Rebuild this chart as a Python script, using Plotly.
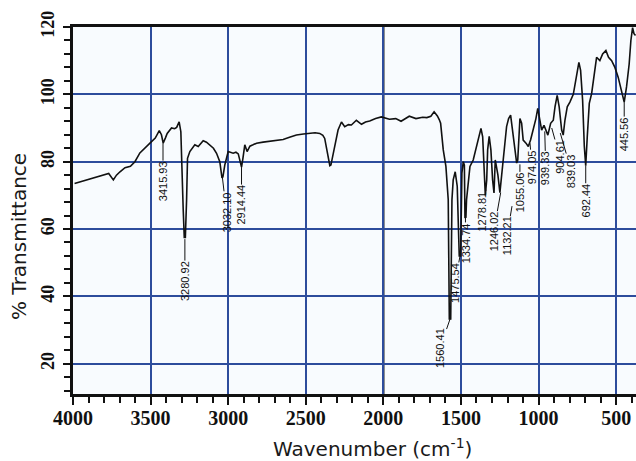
import plotly.graph_objects as go

# ---------------- data ----------------
wavenumber = [
    3990, 3900, 3805, 3770, 3740, 3720, 3697, 3665, 3630, 3601, 3569, 3535, 3504, 3470,
    3444, 3430, 3419, 3405, 3393, 3365, 3345, 3332, 3316, 3305, 3300, 3290, 3283, 3276,
    3268, 3262, 3247, 3215, 3193, 3161, 3140, 3118, 3095, 3075, 3054, 3040, 3034, 3022,
    3000, 2968, 2950,
    2935, 2925, 2914, 2905, 2893, 2878, 2860, 2840, 2817, 2775, 2731, 2690, 2646, 2600,
    2560, 2515, 2474, 2440, 2410, 2390, 2378, 2356, 2345, 2338, 2320, 2292, 2270, 2249,
    2225, 2206, 2174, 2141, 2115, 2088, 2050, 2013, 1961, 1920, 1886, 1860, 1833, 1790,
    1747, 1720, 1694, 1673, 1652,
    1640, 1631, 1614, 1597, 1582, 1575, 1566, 1558, 1550, 1537, 1524, 1511, 1502, 1494,
    1485, 1478, 1474, 1468, 1464, 1453, 1442, 1421, 1399, 1382, 1371, 1360, 1352, 1343,
    1334, 1328, 1318, 1307, 1296, 1287, 1279, 1270, 1262, 1249, 1238, 1227, 1217, 1206,
    1193, 1180, 1167, 1154, 1141, 1134, 1128, 1120, 1109, 1099, 1081, 1066, 1051, 1034,
    1017, 1005, 990, 980, 965, 948, 940,
    922, 905, 894, 880, 867, 851, 841, 830, 815, 798, 776, 755, 740, 729, 716, 705, 696,
    686, 673, 658, 643, 626, 605, 587, 566, 549, 529, 508, 487, 465, 448, 433, 416, 405,
    394, 385, 375,
]
transmittance = [
    73.5, 74.8, 76.1, 76.5, 74.6, 76.0, 77.0, 78.2, 78.6, 80.0, 82.6, 84.0, 85.5, 87.0,
    89.2, 88.0, 85.5, 87.0, 88.4, 90.0, 89.8, 90.2, 91.8, 88.9, 77.6, 66.0, 57.5, 57.5,
    68.7, 81.0, 83.0, 85.0, 84.5, 86.2, 85.8, 85.0, 84.0, 82.5, 80.0, 75.2, 75.5, 79.0,
    83.0, 82.5, 82.8,
    82.3, 80.5, 78.4, 81.0, 85.0, 83.0, 84.6, 85.0, 85.5, 85.8, 86.0, 86.3, 86.6, 87.3,
    87.9, 88.2, 88.4, 88.6, 88.4, 87.8, 86.9, 81.5, 78.8, 79.0, 83.5, 89.4, 91.8, 90.4,
    91.0, 90.9, 92.3, 91.1, 91.8, 92.1, 92.8, 93.3, 92.6, 92.8, 92.0, 92.8, 93.5, 92.8,
    93.2, 93.1, 93.5, 94.8, 93.6,
    92.5, 91.4, 83.5, 78.6, 68.7, 33.3, 33.3, 68.7, 74.6, 77.0, 72.7, 52.0, 52.0, 76.6,
    80.0, 79.0, 63.3, 63.5, 68.7, 74.6, 78.6, 80.5, 84.5, 88.4, 89.9, 87.4, 80.5, 70.0,
    74.6, 83.5, 87.5, 83.5, 74.6, 70.7, 80.5, 78.6, 76.1, 70.8, 76.6, 80.5, 85.4, 90.4,
    92.8, 93.8, 89.4, 83.5, 79.6, 80.5, 88.0, 92.8, 91.4, 86.4, 85.5, 84.5, 86.5, 89.4,
    92.8, 95.8, 92.0, 89.4, 90.8, 88.9, 87.9,
    91.4, 92.3, 96.3, 99.7, 96.3, 89.4, 87.9, 92.3, 96.3, 97.7, 100.0, 105.1, 109.5, 107.1,
    98.2, 84.5, 78.8, 87.4, 97.3, 100.2, 106.1, 111.0, 110.0, 112.0, 113.0, 111.0, 110.0,
    108.0, 105.1, 101.2, 97.7, 102.2, 109.0, 116.0, 119.8, 118.0, 117.5,
]

# peak labels: text, leader tip (wavenumber, %T), text offset from tip (px)
peak_labels = ["3415.93", "3280.92", "3032.10", "2914.44", "1560.41", "1475.54",
               "1334.74", "1278.81", "1246.02", "1132.21", "1055.06", "974.05",
               "939.33", "904.61", "839.03", "692.44", "445.56"]
peak_tip_x = [3420, 3279, 3037, 2914, 1570, 1506, 1471, 1339, 1244, 1171, 1120, 1055,
              960, 915, 860, 696, 448]
peak_tip_y = [85.5, 57.0, 75.2, 78.4, 33.3, 52.0, 63.3, 71.7, 70.8, 66.8, 79.2, 85.5,
              89.0, 90.0, 88.5, 78.8, 97.7]
peak_dx = [0, 0, 4, 0, -10, -5, 0, -4, -7, -5, 0, 2, 1, 8, 11, 0, 0]
peak_dy = [38, 42, 34, 38, 29, 27, 25, 22, 39, 30, 28, 24, 37, 29, 38, 35, 32]

x_ticks = [4000, 3500, 3000, 2500, 2000, 1500, 1000, 500]
y_ticks = [20, 40, 60, 80, 100, 120]

# ---------------- figure ----------------
fig = go.Figure()
fig.add_trace(go.Scatter(
    x=wavenumber, y=transmittance, mode="lines",
    line=dict(color="#111111", width=1.6), hoverinfo="skip", showlegend=False,
))

grid_blue = "#2d4c9c"
fig.add_vline(x=2000, line=dict(color="#111111", width=2.2), layer="below")

label_font = dict(family="Liberation Sans", size=11, color="#111111")
for t, tx, ty, dx, dy in zip(peak_labels, peak_tip_x, peak_tip_y, peak_dx, peak_dy):
    fig.add_annotation(
        x=tx, y=ty, text=t, textangle=-90, font=label_font,
        showarrow=True, arrowhead=0, arrowwidth=1, arrowcolor="#111111",
        ax=dx, ay=dy, standoff=0, startstandoff=0, borderpad=0,
    )

title_font = dict(family="DejaVu Sans", size=20, color="#1a1a1a")
fig.add_annotation(text="Wavenumber (cm<sup>-1</sup>)", xref="paper", yref="paper",
                   x=(372 - 73) / 563, y=-(448 - 394) / 367, showarrow=False,
                   font=title_font, xanchor="center", yanchor="middle")
fig.add_annotation(text="% Transmittance", xref="paper", yref="paper",
                   x=-(73 - 19) / 563, y=(394 - 237) / 367, showarrow=False,
                   textangle=-90, font=title_font, xanchor="center", yanchor="middle")

serif = "Liberation Serif, DejaVu Serif, serif"
x_tick_font = dict(family=serif, size=20, color="#111111", weight="bold")
y_tick_font = dict(family=serif, size=18, color="#111111", weight="bold")

fig.update_xaxes(
    range=[4000, 372], tickvals=x_ticks, ticktext=[str(v) for v in x_ticks],
    showgrid=True, gridcolor=grid_blue, gridwidth=1.5,
    showline=True, linecolor="#111111", linewidth=3, mirror=True,
    ticks="outside", ticklen=8, tickwidth=2, tickcolor="#111111",
    tickfont=x_tick_font, ticklabelstandoff=-4, automargin=False,
    minor=dict(dtick=100, tick0=0, ticks="outside", ticklen=6, tickwidth=1.5,
               tickcolor="#111111", showgrid=False),
    zeroline=False,
)
fig.update_yaxes(
    range=[11, 120], tickvals=y_ticks, ticktext=[str(v) for v in y_ticks],
    tickangle=-90,
    showgrid=True, gridcolor=grid_blue, gridwidth=1.5,
    showline=True, linecolor="#111111", linewidth=3, mirror=False,
    ticks="outside", ticklen=7, tickwidth=2, tickcolor="#111111",
    tickfont=y_tick_font, ticklabelstandoff=2, automargin=False,
    minor=dict(dtick=4, tick0=0, ticks="outside", ticklen=6, tickwidth=1.5,
               tickcolor="#111111", showgrid=False),
    zeroline=False,
)

fig.update_layout(
    width=636, height=461,
    margin=dict(l=73, r=0, t=27, b=67, autoexpand=False),
    paper_bgcolor="white", plot_bgcolor="#f8fbfe",
    showlegend=False,
)

fig.write_html(
    "out.html",
    config={"displayModeBar": False},
    post_script="document.body.style.margin='0';document.body.style.padding='0';"
                "document.body.style.overflow='hidden';",
)
